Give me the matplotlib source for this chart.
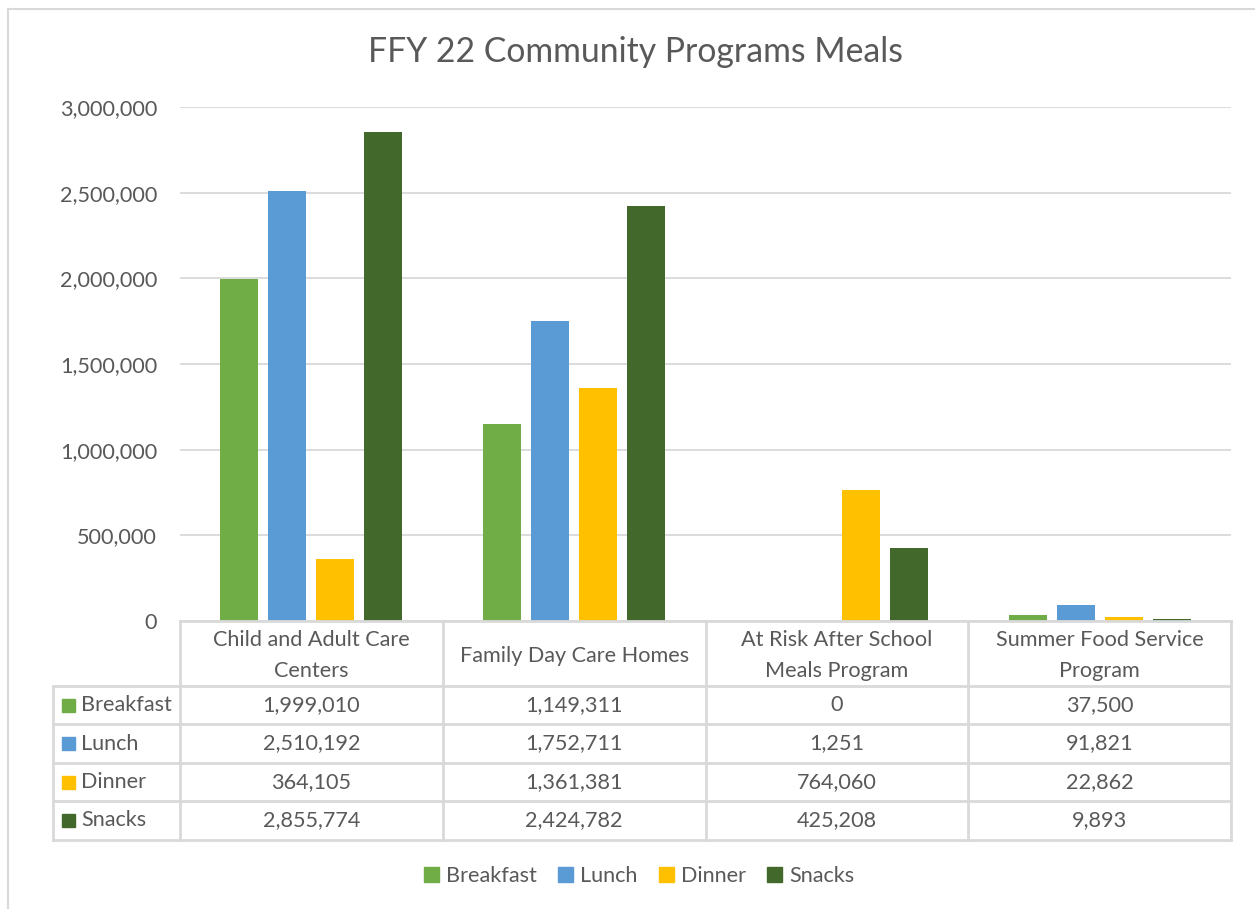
import matplotlib
matplotlib.use("Agg")
import matplotlib.pyplot as plt
from matplotlib.patches import Rectangle
from matplotlib.lines import Line2D
import matplotlib.transforms as mtrans

plt.rcParams['font.family'] = ['Lato', 'DejaVu Sans']

categories = ["Child and Adult Care\nCenters", "Family Day Care Homes",
              "At Risk After School\nMeals Program", "Summer Food Service\nProgram"]
series = ["Breakfast", "Lunch", "Dinner", "Snacks"]
breakfast = [1999010, 1149311, 0, 37500]
lunch = [2510192, 1752711, 1251, 91821]
dinner = [364105, 1361381, 764060, 22862]
snacks = [2855774, 2424782, 425208, 9893]
values = [breakfast, lunch, dinner, snacks]
colors = ["#70AD47", "#5B9BD5", "#FFC000", "#43682B"]
yticks = [0, 500000, 1000000, 1500000, 2000000, 2500000, 3000000]
title = "FFY 22 Community Programs Meals"

W, H = 1255, 909
fig = plt.figure(figsize=(W / 100, H / 100), dpi=100)
TXT = "#595959"
GRID = "#D9D9D9"
FS = 15.6

def fx(px):
    return px / W

def fy(py):
    return 1 - py / H

# outer chart border (top and left only visible)
fig.add_artist(Line2D([fx(8), 1.0], [fy(9), fy(9)], color=GRID, lw=1.5))
fig.add_artist(Line2D([fx(8), fx(8)], [fy(9), 0.0], color=GRID, lw=1.5))

ax_l, ax_r, ax_t, ax_b = 180, 1231, 107, 621
ax = fig.add_axes([fx(ax_l), fy(ax_b), fx(ax_r - ax_l), (ax_b - ax_t) / H])
ax.set_xlim(-0.5, 3.5)
ax.set_ylim(0, 3000000)
n = len(categories)
bw = 0.1445
step = 0.1825
for i, (s, vals, c) in enumerate(zip(series, values, colors)):
    xs = [k + (i - 1.5) * step for k in range(n)]
    ax.bar(xs, vals, width=bw, color=c, label=s, zorder=3)
ax.set_yticks(yticks)
ax.set_yticklabels([f"{v:,}" for v in yticks], fontsize=FS, color=TXT)
ax.tick_params(axis='y', length=0, pad=16.5)
ax.set_xticks([])
ax.grid(axis='y', color=GRID, lw=1.3, zorder=0)
for sp in ax.spines.values():
    sp.set_visible(False)

fig.text(fx(635), fy(52), title, ha='center', va='center', fontsize=24.3, color=TXT)

# data table
blend = mtrans.blended_transform_factory(ax.transData, fig.transFigure)
figt = fig.transFigure
row_y = [621, 686, 724, 763, 801, 840]
lab_l = 53
lw = 2
fig.add_artist(Line2D([fx(ax_l), fx(ax_r)], [fy(row_y[0])] * 2, color=GRID, lw=lw))
for yy in row_y[1:]:
    fig.add_artist(Line2D([fx(lab_l), fx(ax_r)], [fy(yy)] * 2, color=GRID, lw=lw))
for k in range(n + 1):
    x = k - 0.5
    ax.add_artist(Line2D([x, x], [fy(row_y[0]), fy(row_y[-1])], transform=blend,
                         color=GRID, lw=lw, clip_on=False))
fig.add_artist(Line2D([fx(lab_l)] * 2, [fy(row_y[1]), fy(row_y[-1])], color=GRID, lw=lw))

for k, cat in enumerate(categories):
    ax.text(k, fy((row_y[0] + row_y[1]) / 2 + 2), cat, transform=blend, ha='center',
            va='center', fontsize=FS, color=TXT, linespacing=1.65)
for r, (s, vals, c) in enumerate(zip(series, values, colors)):
    yc = (row_y[r + 1] + row_y[r + 2]) / 2
    fig.add_artist(Rectangle((fx(62), fy(yc + 6.5)), fx(13), 13 / H, color=c,
                             transform=figt))
    fig.text(fx(81), fy(yc), s, ha='left', va='center', fontsize=FS, color=TXT)
    for k, v in enumerate(vals):
        ax.text(k, fy(yc), f"{v:,}", transform=blend, ha='center', va='center',
                fontsize=FS, color=TXT)

handles = [Rectangle((0, 0), 1, 1, color=c) for c in colors]
fig.legend(handles, series, loc='center', bbox_to_anchor=(fx(639), fy(876)), ncol=4,
           frameon=False, fontsize=FS, labelcolor=TXT, handlelength=0.7,
           handleheight=0.7, handletextpad=0.3, columnspacing=1.0)

fig.savefig("out.png", dpi=100, facecolor="white")
